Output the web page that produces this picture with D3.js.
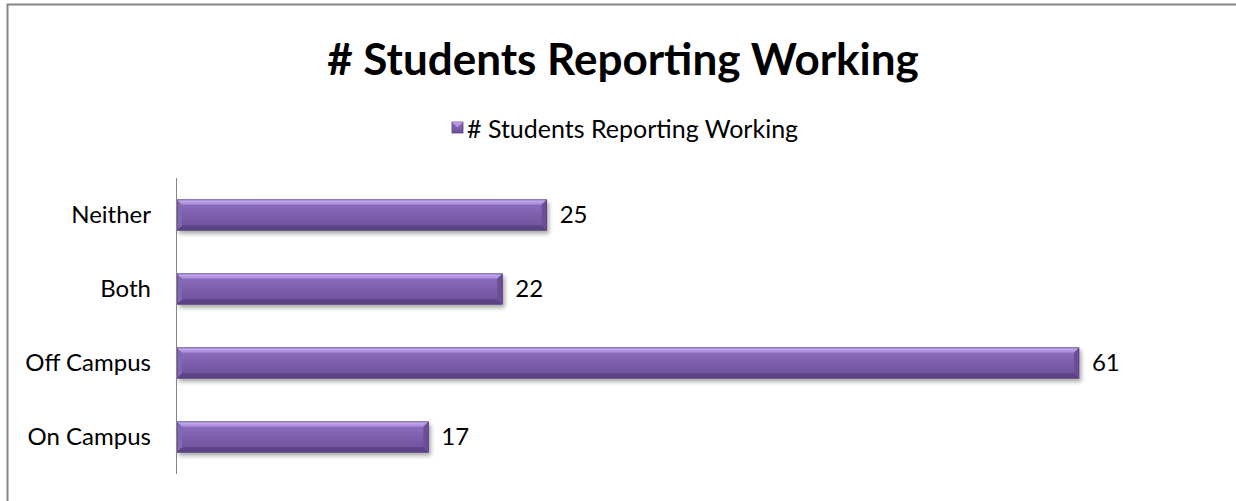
<!DOCTYPE html>
<html>
<head>
<meta charset="utf-8">
<script src="https://cdn.jsdelivr.net/npm/d3@7"></script>
<style>
  html, body { margin: 0; padding: 0; background: #fff; overflow: hidden; }
  svg { display: block; }
  text { font-family: Lato, "Open Sans", sans-serif; fill: #000; }
</style>
</head>
<body>
<div id="chart"></div>
<script>
// chart data
const categories = ["Neither", "Both", "Off Campus", "On Campus"];
const values = [25, 22, 61, 17];
const seriesName = "# Students Reporting Working";
const chartTitle = "# Students Reporting Working";

const W = 1236, H = 501;
const margin = {top: 178, right: 24, bottom: 27, left: 177};
const width = W - margin.left - margin.right;
const height = H - margin.top - margin.bottom;

const svg = d3.select("#chart")
    .append("svg")
    .attr("width", W)
    .attr("height", H);

// gradients for the bevelled bars
const defs = svg.append("defs");
const grad = defs.append("linearGradient")
    .attr("id", "barFill")
    .attr("x1", 0).attr("y1", 0).attr("x2", 0).attr("y2", 1);
[[0, "#9172c4"], [0.45, "#7f60ae"], [1, "#6b4e98"]].forEach(s =>
    grad.append("stop").attr("offset", s[0]).attr("stop-color", s[1]));
const topGrad = defs.append("linearGradient")
    .attr("id", "barTop")
    .attr("x1", 0).attr("y1", 0).attr("x2", 0).attr("y2", 1);
[[0, "#cdb2f7"], [1, "#a283d4"]].forEach(s =>
    topGrad.append("stop").attr("offset", s[0]).attr("stop-color", s[1]));
const shadow = defs.append("filter")
    .attr("id", "barShadow")
    .attr("x", "-5%").attr("y", "-30%").attr("width", "110%").attr("height", "170%");
shadow.append("feGaussianBlur").attr("in", "SourceAlpha").attr("stdDeviation", 2);
shadow.append("feOffset").attr("dx", 2).attr("dy", 3).attr("result", "off");
shadow.append("feComponentTransfer").append("feFuncA").attr("type", "linear").attr("slope", 0.35);
const merge = shadow.append("feMerge");
merge.append("feMergeNode");
merge.append("feMergeNode").attr("in", "SourceGraphic");

// outer frame (only left and top edges fall inside the picture)
svg.append("path")
    .attr("d", `M7.5,${H} V4.5 H${W + 5}`)
    .attr("fill", "none")
    .attr("stroke", "#868686")
    .attr("stroke-width", 2);

// title
svg.append("text")
    .attr("x", 623)
    .attr("y", 75)
    .attr("text-anchor", "middle")
    .style("font-size", "44px")
    .style("font-weight", "bold")
    .text(chartTitle);

// legend
const legend = svg.append("g").attr("transform", "translate(452,122)");
legend.append("rect")
    .attr("width", 11).attr("height", 11)
    .attr("fill", "url(#barFill)")
    .attr("stroke", "#5a4285").attr("stroke-width", 0.8);
legend.append("path")
    .attr("d", "M0,0 L11,0 L5.5,5.5 Z")
    .attr("fill", "#b496e2");
legend.append("text")
    .attr("x", 15).attr("y", 16)
    .style("font-size", "25px")
    .text(seriesName);

const g = svg.append("g")
    .attr("transform", "translate(" + margin.left + "," + margin.top + ")");

const x = d3.scaleLinear()
    .domain([0, 70])
    .range([0, 1035]);

const y = d3.scaleBand()
    .domain(categories)
    .range([0, height])
    .paddingInner(0.59)
    .paddingOuter(0.295);

// Y axis (labels only, line drawn below)
const yAxis = g.append("g")
    .call(d3.axisLeft(y).tickSize(0).tickPadding(26));
yAxis.select(".domain").remove();
yAxis.selectAll("text")
    .style("font-family", "Lato, 'Open Sans', sans-serif")
    .style("font-size", "24px")
    .attr("fill", "#000");

const data = categories.map((c, i) => ({cat: c, value: values[i]}));
const bev = 5;

const bars = g.selectAll(".bar")
    .data(data)
    .enter()
    .append("g")
    .attr("class", "bar")
    .attr("filter", "url(#barShadow)");

bars.append("rect")
    .attr("x", 0)
    .attr("y", d => y(d.cat))
    .attr("width", d => x(d.value))
    .attr("height", y.bandwidth())
    .attr("fill", "url(#barFill)");

// top bevel
bars.append("path")
    .attr("d", d => {
        const x1 = x(d.value), y0 = y(d.cat);
        return `M0,${y0} H${x1} L${x1 - bev},${y0 + bev} H0 Z`;
    })
    .attr("fill", "url(#barTop)");

// bottom bevel
bars.append("path")
    .attr("d", d => {
        const x1 = x(d.value), y1 = y(d.cat) + y.bandwidth();
        return `M0,${y1} H${x1} L${x1 - bev},${y1 - bev} H0 Z`;
    })
    .attr("fill", "#5b4286");

// right bevel
bars.append("path")
    .attr("d", d => {
        const x1 = x(d.value), y0 = y(d.cat), y1 = y0 + y.bandwidth();
        return `M${x1},${y0} V${y1} L${x1 - bev},${y1 - bev} V${y0 + bev} Z`;
    })
    .attr("fill", "#6a4f97");

// left bevel hint near the axis
bars.append("path")
    .attr("d", d => {
        const y0 = y(d.cat), y1 = y0 + y.bandwidth();
        return `M0,${y0} L${bev},${y0 + bev} V${y1 - bev} L0,${y1} Z`;
    })
    .attr("fill", "#8466b3");

bars.append("rect")
    .attr("x", 0)
    .attr("y", d => y(d.cat))
    .attr("width", d => x(d.value))
    .attr("height", y.bandwidth())
    .attr("fill", "none")
    .attr("stroke", "#4f3a75")
    .attr("stroke-width", 0.8);

// value labels
g.selectAll(".val")
    .data(data)
    .enter()
    .append("text")
    .attr("class", "val")
    .attr("x", d => x(d.value) + 13)
    .attr("y", d => y(d.cat) + y.bandwidth() / 2)
    .attr("dy", "0.35em")
    .style("font-size", "24px")
    .text(d => d.value);

// category axis line
g.append("line")
    .attr("x1", -0.5).attr("x2", -0.5)
    .attr("y1", 0).attr("y2", height)
    .attr("stroke", "#868686")
    .attr("stroke-width", 1);
</script>
</body>
</html>
